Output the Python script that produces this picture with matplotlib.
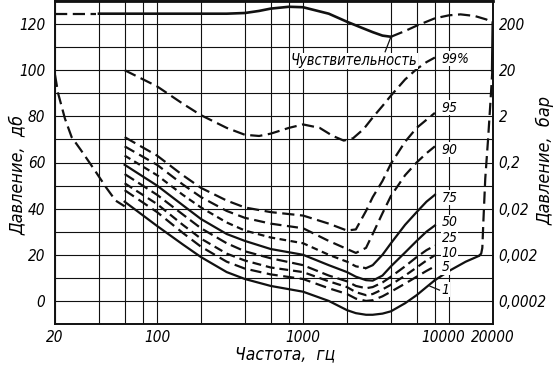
import matplotlib
matplotlib.use("Agg")
import matplotlib.pyplot as plt
import matplotlib.transforms as mtransforms
from matplotlib import font_manager
from matplotlib.font_manager import FontProperties
import numpy as np

# ---------------- data ----------------
FREQ = [60, 100, 150, 200, 300, 400, 600, 1000, 1500, 2000, 2300, 2700,
        3000, 3500, 4000, 5000, 6000, 7000, 8000]

P95 = [71, 63, 54.5, 49, 43.5, 40.5, 38.5, 37, 33.5, 30.5, 31, 39,
       45, 52, 59.5, 69, 75, 78.5, 81.5]
P90 = [67, 59, 50.5, 45, 39, 36, 33.5, 31.5, 26, 22.5, 20.8, 23,
       29, 38, 45.5, 54.5, 60, 64, 67]
P75 = [63, 54.5, 46, 40.5, 34, 30.5, 27.5, 25, 20, 17, 15, 14.2,
       15.5, 20, 25, 33, 38.5, 43, 46]
P50 = [59, 50, 41.5, 35.5, 29, 26, 22.5, 20, 15.5, 12.5, 10.5, 9,
       8.8, 11, 15, 21, 26, 30, 32.7]
P25 = [55, 46, 37.5, 31.5, 25, 21.5, 18.5, 15.5, 11, 8.5, 6.5, 5.5,
       6, 8, 10.5, 15, 19, 22, 24]
P10 = [51, 42, 33, 27, 20.5, 17.5, 14.5, 12.5, 8.5, 6, 3.8, 2.5,
       3, 5, 7, 11, 14.5, 17.5, 19.8]
P05 = [48, 38.5, 29.5, 23.5, 17, 14, 11.5, 9.5, 5.5, 3, 1, 0,
       0.3, 2, 4, 7.5, 10.5, 13, 15]
P01 = [43, 32.5, 24.5, 19, 12.5, 9.5, 6.5, 4, 0, -4, -5.3, -6,
       -6, -5.5, -4.5, -1, 2.5, 6, 9]
F01_TAIL = [8000, 10000, 13000, 16000]
P01_TAIL = [9, 13, 17, 19.5]

F99 = [60, 100, 150, 200, 300, 400, 500, 600, 800, 1000, 1300, 1600,
       1900, 2200, 2600, 3000, 3500, 4000, 5000, 6000, 7000, 8000]
P99 = [100, 93, 85.5, 80.5, 75, 72, 71.5, 72.5, 75, 76.5, 75, 71.5,
       69.5, 70.5, 74.5, 79.5, 84.5, 89, 96, 100.5, 103.5, 105.5]

# threshold of feeling ("Чувствительность")
F_FEEL_LO = [20, 38]
P_FEEL_LO = [124.5, 124.5]
F_FEEL = [40, 100, 200, 300, 400, 500, 600, 800, 1000, 1500, 2000, 2500,
          3000, 3500, 4000]
P_FEEL = [124.5, 124.5, 124.5, 124.5, 124.8, 125.7, 126.7, 127.5, 127.3,
          124.5, 121, 118.5, 116.5, 115, 114.5]
F_FEEL_HI = [4000, 5000, 6000, 8000, 10000, 12000, 15000, 18000, 20000]
P_FEEL_HI = [114.5, 117, 119.3, 122.5, 123.8, 124.2, 123.5, 122, 120.5]

# low / high frequency limits of the hearing area
F_LOW = [20, 21, 23.4, 26, 30, 34, 38, 45, 52, 60]
P_LOW = [98, 90, 79, 71, 65.5, 60.5, 56, 49, 43.5, 41]
F_HIGH = [16000, 16600, 16900, 17200, 17700, 18500, 19200, 19800]
P_HIGH = [19.5, 20.5, 23, 35, 53, 70, 86, 100]
F_HIGH_TOP = [19800, 20000]
P_HIGH_TOP = [100, 120.5]

CURVE_LABELS = ["99%", "95", "90", "75", "50", "25", "10", "5", "1"]
LABEL_DB = [104.9, 83.7, 65.6, 44.8, 34, 27.4, 20.9, 14.6, 4.9]

X_GRID = [20, 40, 60, 80, 100, 200, 400, 600, 800, 1000, 2000, 4000,
          6000, 8000, 10000, 20000]
X_TICKS = [20, 100, 1000, 10000, 20000]
Y_TICKS = [0, 20, 40, 60, 80, 100, 120]
BAR_LABELS = ["0,0002", "0,002", "0,02", "0,2", "2", "20", "200"]


def find_narrow_italic():
    # a condensed, non-bold italic face is closest to the scanned lettering
    for fe in font_manager.fontManager.ttflist:
        fn = fe.fname.lower()
        w = fe.weight if isinstance(fe.weight, int) else \
            font_manager.weight_dict.get(fe.weight, 400)
        if ("narrow" in fn or "condensed" in fn) and "bold" not in fn \
                and w <= 500 and fe.style in ("italic", "oblique"):
            return fe.fname
    return None


NARROW = find_narrow_italic()


def fp(size):
    if NARROW:
        return FontProperties(fname=NARROW, size=size)
    return FontProperties(family="DejaVu Sans", style="italic", size=size * 0.88)


# ---------------- figure ----------------
W, H = 559, 366
fig = plt.figure(figsize=(W / 100, H / 100), dpi=100)
ax = fig.add_axes([55 / W, 42 / H, (493 - 55) / W, (324 - 1) / H])
ax.set_xscale("log")
ax.set_xlim(20, 20000)
ax.set_ylim(-10, 130)

K = "#111111"
for xv in X_GRID:
    ax.axvline(xv, color=K, lw=0.8, zorder=1)
for yv in range(-10, 131, 10):
    ax.axhline(yv, color=K, lw=0.8, zorder=1)

LW = 1.6
LONG = (5.5, 2.5)
SHORT = (3, 2)

ax.plot(F99, P99, color=K, lw=LW, dashes=LONG, zorder=3)
ax.plot(FREQ, P95, color=K, lw=LW, dashes=LONG, zorder=3)
ax.plot(FREQ, P90, color=K, lw=LW, dashes=(5, 2.5), zorder=3)
f = np.array(FREQ)
p75 = np.array(P75)
ax.plot(f[f <= 2700], p75[f <= 2700], color=K, lw=LW, dashes=SHORT, zorder=3)
ax.plot(f[f >= 2700], p75[f >= 2700], color=K, lw=LW, zorder=3)
ax.plot(FREQ, P50, color=K, lw=LW, zorder=3)
ax.plot(FREQ, P25, color=K, lw=LW, dashes=(5, 2.2), zorder=3)
ax.plot(FREQ, P10, color=K, lw=LW, dashes=(4, 2.2), zorder=3)
ax.plot(FREQ, P05, color=K, lw=LW, dashes=(5, 2.5), zorder=3)
ax.plot(FREQ, P01, color=K, lw=LW, zorder=3)
ax.plot(F01_TAIL, P01_TAIL, color=K, lw=LW, zorder=3)

ax.plot(F_FEEL_LO, P_FEEL_LO, color=K, lw=LW, dashes=LONG, zorder=3)
ax.plot(F_FEEL, P_FEEL, color=K, lw=LW + 0.3, zorder=3)
ax.plot(F_FEEL_HI, P_FEEL_HI, color=K, lw=LW, dashes=LONG, zorder=3)
ax.plot(F_LOW, P_LOW, color=K, lw=LW, dashes=LONG, zorder=3)
ax.plot(F_HIGH, P_HIGH, color=K, lw=LW, dashes=LONG, zorder=3)
ax.plot(F_HIGH_TOP, P_HIGH_TOP, color=K, lw=LW + 0.6, zorder=3)

box = dict(facecolor="white", edgecolor="none", pad=0.3)
for lab, yv in zip(CURVE_LABELS, LABEL_DB):
    ax.text(8900, yv, lab, fontproperties=fp(10), ha="left", va="center",
            bbox=box, zorder=4)
ax.text(820, 104, "Чувствительность", fontproperties=fp(10.5), ha="left",
        va="center", bbox=box, zorder=4)
ax.plot([3650, 4000], [108, 114.5], color=K, lw=0.9, zorder=5)
# leader for the "1" label
ax.plot([7400, 8600], [6.4, 4.7], color=K, lw=0.9, zorder=5)

ax.set_xticks(X_TICKS)
ax.set_xticklabels([str(v) for v in X_TICKS])
ax.xaxis.set_minor_locator(matplotlib.ticker.NullLocator())
ax.set_yticks(Y_TICKS)
ax.set_yticklabels([str(v) for v in Y_TICKS])
ax.tick_params(length=0, pad=4)
ax.tick_params(axis="y", pad=7)

ax2 = ax.twinx()
ax2.set_ylim(-10, 130)
ax2.set_yticks(Y_TICKS)
ax2.set_yticklabels(BAR_LABELS)
ax2.tick_params(length=0, pad=4)

for lbl in ax.get_xticklabels() + ax.get_yticklabels() + ax2.get_yticklabels():
    lbl.set_fontproperties(fp(11))
# the "10000" label sits a little left of its grid line in the original
shift = mtransforms.ScaledTranslation(-6 / 100, 0, fig.dpi_scale_trans)
lbl10k = ax.get_xticklabels()[3]
lbl10k.set_transform(lbl10k.get_transform() + shift)

for a in (ax, ax2):
    for s in a.spines.values():
        s.set_linewidth(1.2)
        s.set_color(K)
ax.spines["top"].set_linewidth(2.0)

fig.text(18 / W, 1 - 175 / H, "Давление,  дб", rotation=90,
         fontproperties=fp(13), ha="center", va="center")
fig.text(545 / W, 1 - 160 / H, "Давление,  бар", rotation=90,
         fontproperties=fp(13), ha="center", va="center")
fig.text(285 / W, 1 - 354 / H, "Частота,  гц", fontproperties=fp(12.5),
         ha="center", va="center")

fig.savefig("out.png", dpi=100)
